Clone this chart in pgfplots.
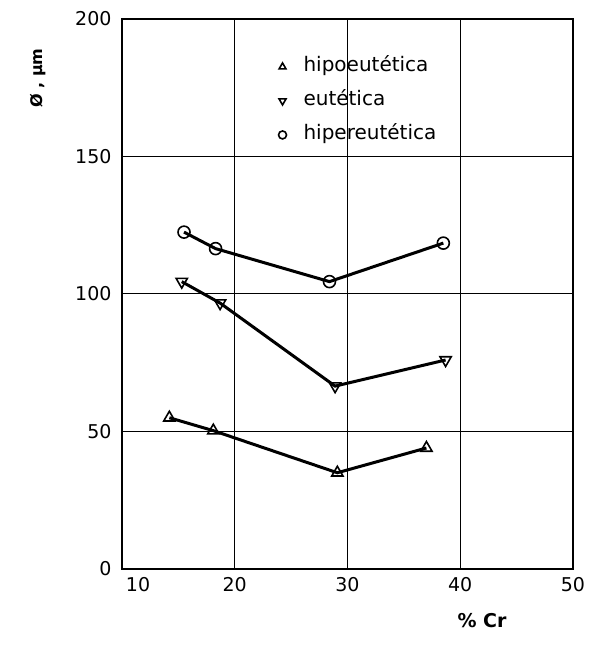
\documentclass[border=0pt]{standalone}
\usepackage{fontspec}
\setmainfont{DejaVu Sans}
\usepackage{pgfplots}
\pgfplotsset{compat=1.18}
\begin{document}
\begin{tikzpicture}
\begin{axis}[
  scale only axis, width=451pt, height=550pt,
  xmin=10, xmax=50, ymin=0, ymax=200,
  xtick={10,20,30,40,50}, ytick={0,50,100,150,200},
  xticklabels={\makebox[0pt][l]{\hspace{4pt}10},20,30,40,50},
  grid=major, major grid style={black, line width=1pt},
  axis line style={line width=1.8pt},
  major tick length=0pt,
  /pgf/number format/assume math mode=true,
  ticklabel style={font=\fontsize{19}{19}\selectfont},
  xticklabel style={yshift=-5pt},
  yticklabel style={xshift=-7pt},
  legend style={at={(rel axis cs:0.34,0.935)}, anchor=north west, draw=none, fill=none,
    font=\fontsize{20}{20}\selectfont, row sep=14pt, column sep=16pt,
    nodes={inner sep=1pt, text height=14pt, text depth=4pt}},
  legend cell align=left,
]
\addlegendimage{only marks, mark=triangle, mark size=4pt, mark options={line width=1.6pt, fill=white}}
\addlegendentry{hipoeutética}
\addlegendimage{only marks, mark=triangle, mark size=4pt, mark options={rotate=180, line width=1.6pt, fill=white}}
\addlegendentry{eutética}
\addlegendimage{only marks, mark=o, mark size=4pt, mark options={line width=1.6pt, fill=white}}
\addlegendentry{hipereutética}
\addplot[black, line width=3pt, mark=o, mark size=6pt, mark options={line width=1.6pt, fill=white}, forget plot]
 coordinates {(15.5,122.5) (18.3,116.5) (28.4,104.5) (38.5,118.5)};
\addplot[black, line width=3pt, mark=triangle, mark size=6.5pt, mark options={rotate=180, line width=1.6pt, fill=white}, forget plot]
 coordinates {(15.3,104.5) (18.7,96.7) (28.9,66.5) (38.7,76)};
\addplot[black, line width=3pt, mark=triangle, mark size=6.5pt, mark options={line width=1.6pt, fill=white}, forget plot]
 coordinates {(14.2,55) (18.1,50.3) (29.1,35) (37,44)};
\end{axis}
\path (-122pt,-92pt) rectangle (469pt,569pt);
\node[font=\bfseries\fontsize{19}{19}\selectfont] at (360pt,-52pt) {\% Cr};
\node[rotate=90, font=\bfseries\fontsize{16}{16}\selectfont] at (-84pt,491pt) {Ø , μm};
\end{tikzpicture}
\end{document}
